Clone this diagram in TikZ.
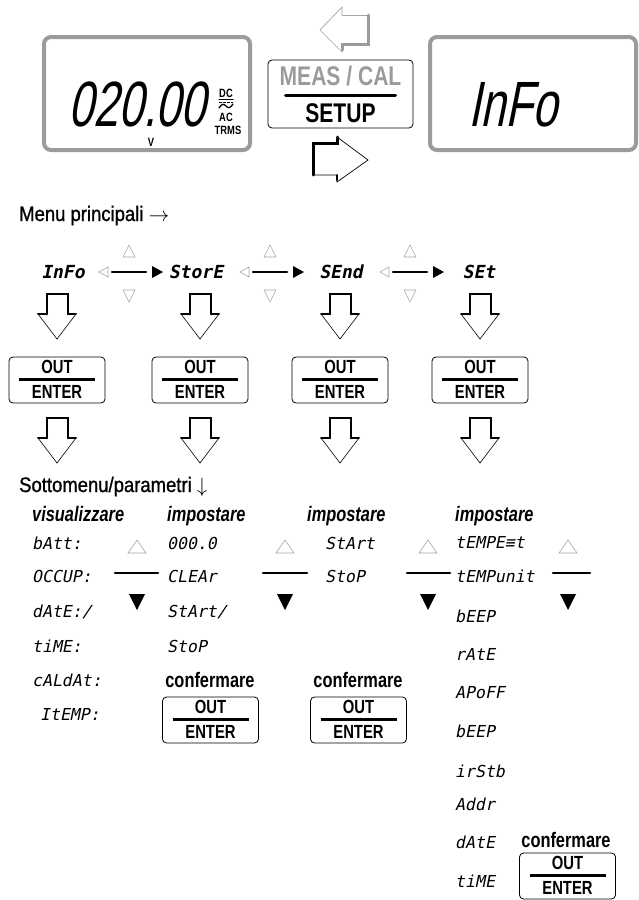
\documentclass[tikz,border=0pt]{standalone}
\usepackage{fontspec}
\setmainfont{Liberation Sans}
\newfontfamily\condfont{Liberation Sans}[FakeStretch=0.78]
\newfontfamily\titlefont{Liberation Sans}[FakeStretch=0.88,FakeBold=1]
\newfontfamily\lcdfont{Liberation Sans}[FakeStretch=0.7,FakeSlant=0.2]
\newfontfamily\segfont{DejaVu Sans Mono}[FakeSlant=0.2]
\usepackage{tikz}
\usetikzlibrary{calc}
\usepackage{xcolor}
\definecolor{lcdgray}{RGB}{155,155,155}
\definecolor{trigray}{RGB}{165,165,165}

\tikzset{
  lcd/.style={draw=lcdgray, line width=4pt, rounded corners=7pt,
    minimum width=206pt, minimum height=113pt, inner sep=0pt},
  keybox/.style={draw, line width=0.8pt, rounded corners=4pt,
    minimum width=96pt, minimum height=46pt, inner sep=0pt},
  keytxt/.style={font=\condfont\bfseries\fontsize{19}{19}\selectfont, inner sep=0pt, anchor=base},
  bigkey/.style={font=\condfont\bfseries\fontsize{27}{27}\selectfont, inner sep=0pt, anchor=base},
  tiny/.style={font=\condfont\bfseries\fontsize{12}{12}\selectfont, inner sep=0pt, anchor=base},
  lcdtxt/.style={font=\lcdfont\fontsize{64}{64}\selectfont, inner sep=0pt, anchor=base},
  menuitem/.style={font=\segfont\bfseries\fontsize{18}{18}\selectfont, inner sep=0pt, anchor=base},
  subitem/.style={font=\segfont\fontsize{16.5}{16.5}\selectfont, inner sep=0pt, anchor=base west},
  title/.style={font=\titlefont\fontsize{21}{21}\selectfont, inner sep=0pt, anchor=base west},
  head/.style={font=\condfont\bfseries\itshape\fontsize{21}{21}\selectfont, inner sep=0pt, anchor=base west},
  confirm/.style={font=\condfont\bfseries\fontsize{21}{21}\selectfont, inner sep=0pt, anchor=base},
}

\begin{document}
\begin{tikzpicture}[x=1pt, y=-1pt, line cap=round]
    \useasboundingbox (0,0) rectangle (639,900);

    % Displays
    \node[lcd] (lcdA) at (147,93.5) {};
    \node[lcdtxt] (val) at (137,126) {020.00};
    \node[tiny] (volt) at (151,146) {V};
    \node[tiny] (dc) at (226,97) {DC};
    \draw[line width=1.3pt] (219,99.5) -- (233,99.5);
    \draw[line width=1.3pt, dash pattern=on 2.5pt off 1.5pt, line cap=butt] (219,102.5) -- (233,102.5);
    \draw[line width=1.3pt] (219,108) .. controls (222,103.5) and (223.5,103.5) .. (226,106)
        .. controls (228.5,108.5) and (230,108.5) .. (233,104);
    \node[tiny] (ac) at (226,121) {AC};
    \node[tiny] (trms) at (228,134) {TRMS};

    \node[lcd] (lcdB) at (533,93.5) {};
    \node[lcdtxt] (infolcd) at (513,126) {InFo};

    % MEAS/CAL - SETUP key
    \node[keybox, minimum width=145pt, minimum height=68pt] (setkey) at (340.5,94) {};
    \node[bigkey, text=lcdgray] (meas) at ($(setkey.center)+(0,-9)$) {MEAS / CAL};
    \draw[line width=3pt] ($(setkey.center)+(-55,1)$) -- ($(setkey.center)+(55,1)$);
    \node[bigkey] (setup) at ($(setkey.center)+(0,28)$) {SETUP};

    % key arrows beside the key
    \draw[trigray, line width=0.7pt] (342,15) -- (342,7) -- (320,30) -- (342,52) -- (342,44);
    \draw[trigray, line width=0.7pt] (342,15) -- (368,15);
    \draw[lcdgray, line width=3pt] (342,50) -- (342,44) -- (368,44) -- (368,15);

    \draw[line width=0.7pt] (337,137) -- (368,160) -- (337,182) -- (337,175) -- (313,175);
    \draw[line width=3pt] (313,175) -- (313,143) -- (337,143) -- (337,137);
    \draw[line width=2pt] (337,175) -- (337,180);

    % Main menu
    \node[title] (menu) at (19,221) {Menu principali $\rightarrow$};
    \node[menuitem] (info) at (63,278) {InFo};
    \node[menuitem] (store) at (196,278) {StorE};
    \node[menuitem] (send) at (341,278) {SEnd};
    \node[menuitem] (set) at (479,278) {SEt};

    \foreach \m in {129,270,410} {
        \draw[trigray, line width=0.6pt] (\m-6,257) -- (\m+6,257) -- (\m,245) -- cycle;
        \draw[trigray, line width=0.6pt] (\m-6,290) -- (\m+6,290) -- (\m,302) -- cycle;
        \draw[trigray, line width=0.6pt] (\m-21,267) -- (\m-21,277) -- (\m-30,272) -- cycle;
        \draw[line width=2.5pt] (\m-17,272) -- (\m+17,272);
        \fill (\m+23,266) -- (\m+23,278) -- (\m+34,272) -- cycle;
    }

    % Down arrows
    \foreach \x in {57,200,340,480} {
        \foreach \y in {294,418} {
            \draw[line width=0.6pt] (\x-19,\y+20) -- (\x,\y+45) -- (\x+19,\y+20);
            \draw[line width=2.8pt] (\x-10,\y+20) -- (\x-10,\y) -- (\x+11,\y) -- (\x+11,\y+20);
            \draw[line width=2pt] (\x-19,\y+20) -- (\x-10,\y+20);
            \draw[line width=2pt] (\x+11,\y+20) -- (\x+19,\y+20);
        }
    }

    % OUT/ENTER keys
    \foreach \x/\y [count=\i] in {57/380, 200/380, 340/380, 480/380, 210.5/720, 358.5/720, 567.5/876} {
        \node[keybox] (ok\i) at (\x,\y) {};
        \node[keytxt] (ok\i-out) at ($(ok\i.center)+(0,-7)$) {OUT};
        \draw[line width=3pt, line cap=butt] ($(ok\i.center)+(-38,-1)$) -- ($(ok\i.center)+(38,-1)$);
        \node[keytxt] (ok\i-enter) at ($(ok\i.center)+(0,18)$) {ENTER};
    }

    % Submenus
    \node[title] (sub) at (19,492) {Sottomenu/parametri $\downarrow$};

    \node[head] (h1) at (32,521) {visualizzare};
    \node[head] (h2) at (167,521) {impostare};
    \node[head] (h3) at (307,521) {impostare};
    \node[head] (h4) at (455,521) {impostare};

    \node[subitem] (a1) at (32,549) {bAtt:};
    \node[subitem] (a2) at (32,582) {OCCUP:};
    \node[subitem] (a3) at (32,617) {dAtE:/};
    \node[subitem] (a4) at (32,652) {tiME:};
    \node[subitem] (a5) at (32,686) {cALdAt:};
    \node[subitem] (a6) at (40,720) {ItEMP:};

    \node[subitem] (b1) at (167,549) {000.0};
    \node[subitem] (b2) at (167,582) {CLEAr};
    \node[subitem] (b3) at (167,617) {StArt/};
    \node[subitem] (b4) at (167,652) {StoP};

    \node[subitem] (c1) at (325,549) {StArt};
    \node[subitem] (c2) at (325,582) {StoP};

    \node[subitem] (d1) at (455,548) {tEMPE≡t};
    \node[subitem] (d2) at (455,582) {tEMPunit};
    \node[subitem] (d3) at (455,622) {bEEP};
    \node[subitem] (d4) at (455,660) {rAtE};
    \node[subitem] (d5) at (455,698) {APoFF};
    \node[subitem] (d6) at (455,737) {bEEP};
    \node[subitem] (d7) at (455,777) {irStb};
    \node[subitem] (d8) at (455,810) {Addr};
    \node[subitem] (d9) at (455,848) {dAtE};
    \node[subitem] (d10) at (455,887) {tiME};

    \foreach \m/\a/\b in {137/115/158, 285/263/307, 428/407/450, 568/553/590} {
        \draw[trigray, line width=0.6pt] (\m-9,553) -- (\m+9,553) -- (\m,540) -- cycle;
        \draw[line width=2.5pt] (\a,573) -- (\b,573);
        \fill (\m-8,594) -- (\m+8,594) -- (\m,610) -- cycle;
    }

    \node[confirm] (conf2) at (210,687) {confermare};
    \node[confirm] (conf3) at (358,687) {confermare};
    \node[confirm] (conf4) at (566,847) {confermare};
\end{tikzpicture}
\end{document}
